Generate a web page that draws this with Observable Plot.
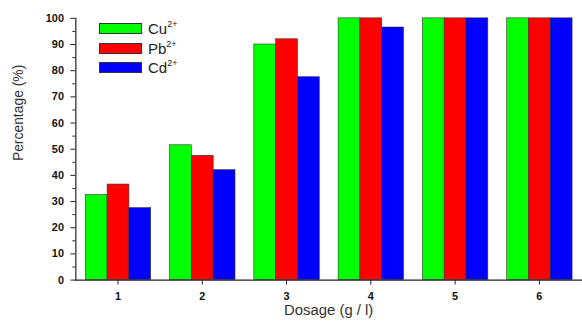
<!DOCTYPE html>
<html>
<head>
<meta charset="utf-8">
<script src="https://cdn.jsdelivr.net/npm/d3@7"></script>
<script src="https://cdn.jsdelivr.net/npm/@observablehq/plot@0.6"></script>
<style>
  html, body { margin: 0; padding: 0; background: #fff; overflow: hidden; }
  #wrap { position: relative; width: 582px; height: 324px; overflow: hidden; font-family: "Liberation Sans", Arial, sans-serif; }
  #wrap svg { display: block; }
  #legend { position: absolute; left: 99px; top: 19px; font-size: 15px; color: #222; }
  #legend .row { display: flex; align-items: center; height: 19.5px; }
  #legend .sw { width: 41px; height: 9px; border: 1px solid #333; margin-right: 6px; }
  #legend sup { font-size: 9px; position: relative; top: -1px; }
</style>
</head>
<body>
<div id="wrap"></div>
<script>
const dosages = ["1", "2", "3", "4", "5", "6"];
const ions = ["Cu2+", "Pb2+", "Cd2+"];
const ionLabels = ["Cu", "Pb", "Cd"];
const colors = ["#00ff00", "#ff0000", "#0000ff"];
const cu = [32.5, 51.5, 90, 100, 100, 100];
const pb = [36.5, 47.5, 92, 100, 100, 100];
const cd = [27.5, 42, 77.5, 96.5, 100, 100];
const yMajorTicks = [0, 10, 20, 30, 40, 50, 60, 70, 80, 90, 100];
const yMinorTicks = [5, 15, 25, 35, 45, 55, 65, 75, 85, 95];

const series = [cu, pb, cd];
const data = [];
dosages.forEach((d, i) => ions.forEach((ion, j) => data.push({dosage: d, ion, value: series[j][i]})));

const font = "Liberation Sans, Arial, sans-serif";

const chart = Plot.plot({
  width: 587,
  height: 324,
  marginLeft: 75,
  marginRight: 0,
  marginTop: 18,
  marginBottom: 42,
  style: {fontFamily: font, background: "#fff", color: "#111"},
  fx: {domain: dosages, padding: 0, label: null, axis: null},
  x: {domain: ions, paddingInner: 0, paddingOuter: 0.354, axis: null},
  y: {domain: [0, 100], label: null, axis: null},
  color: {domain: ions, range: colors},
  marks: [
    Plot.barY(data, {fx: "dosage", x: "ion", y: "value", fill: "ion", stroke: "#333", strokeWidth: 0.6}),
    Plot.frame({anchor: "bottom", facet: "super", stroke: "#222", strokeWidth: 1.2}),
    Plot.frame({anchor: "left", facet: "super", stroke: "#222", strokeWidth: 1.2}),
    Plot.axisY({ticks: yMajorTicks, tickSize: 5, tickPadding: 7, fontWeight: "bold", fontSize: 11, label: null, stroke: "#222"}),
    Plot.axisY({ticks: yMinorTicks, tickSize: 3, text: null, label: null, stroke: "#222"}),
    Plot.axisFx({anchor: "bottom", tickSize: 5, tickPadding: 7, fontWeight: "bold", fontSize: 11, label: null, stroke: "#222"}),
    Plot.text(["Dosage (g / l)"], {frameAnchor: "bottom", lineAnchor: "middle", facet: "super", dy: 30, fontSize: 15, fill: "#333"}),
    Plot.text(["Percentage (%)"], {frameAnchor: "left", facet: "super", rotate: -90, dx: -58, dy: 12, fontSize: 14, fill: "#333"})
  ]
});
document.getElementById("wrap").appendChild(chart);

const legend = document.createElement("div");
legend.id = "legend";
ions.forEach((ion, i) => {
  const row = document.createElement("div");
  row.className = "row";
  const sw = document.createElement("div");
  sw.className = "sw";
  sw.style.background = colors[i];
  const label = document.createElement("span");
  label.innerHTML = ionLabels[i] + "<sup>2+</sup>";
  row.appendChild(sw);
  row.appendChild(label);
  legend.appendChild(row);
});
document.getElementById("wrap").appendChild(legend);
</script>
</body>
</html>
